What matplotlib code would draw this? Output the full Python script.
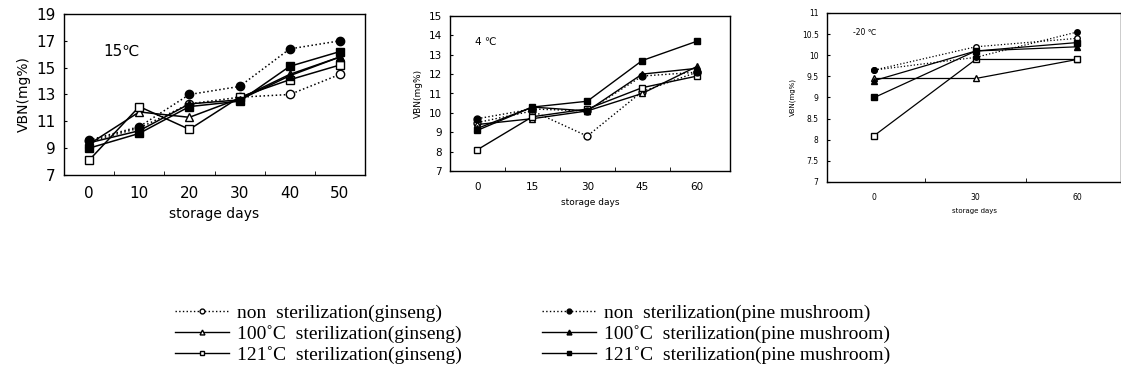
import numpy as np
import matplotlib.pyplot as plt
from matplotlib.lines import Line2D

# 15C storage
days_15 = [0, 10, 20, 30, 40, 50]
non_gin_15 = [9.5, 10.5, 12.3, 12.8, 13.0, 14.5]
s100_gin_15 = [9.3, 11.7, 11.3, 12.7, 14.5, 15.8]
s121_gin_15 = [8.1, 12.1, 10.4, 12.8, 14.1, 15.2]
non_pine_15 = [9.6, 10.6, 13.0, 13.6, 16.4, 17.0]
s100_pine_15 = [9.4, 10.3, 12.3, 12.6, 14.4, 15.8]
s121_pine_15 = [9.0, 10.1, 12.1, 12.5, 15.1, 16.2]

# 4C storage
days_4 = [0, 15, 30, 45, 60]
non_gin_4 = [9.5, 10.1, 8.8, 11.1, 12.1]
s100_gin_4 = [9.4, 9.7, 10.1, 11.0, 12.4]
s121_gin_4 = [8.1, 9.8, 10.2, 11.3, 11.9]
non_pine_4 = [9.7, 10.2, 10.1, 11.9, 12.1]
s100_pine_4 = [9.2, 10.3, 10.1, 12.0, 12.3]
s121_pine_4 = [9.1, 10.3, 10.6, 12.7, 13.7]

# -20C storage
days_m20 = [0, 30, 60]
non_gin_m20 = [9.65, 10.2, 10.4]
s100_gin_m20 = [9.45, 9.45, 9.9]
s121_gin_m20 = [8.1, 9.9, 9.9]
non_pine_m20 = [9.65, 9.95, 10.55]
s100_pine_m20 = [9.4, 10.1, 10.2]
s121_pine_m20 = [9.0, 10.1, 10.3]

labels = ['non  sterilization(ginseng)', '100\u02daC  sterilization(ginseng)', '121\u02daC  sterilization(ginseng)',
          'non  sterilization(pine mushroom)', '100\u02daC  sterilization(pine mushroom)',
          '121\u02daC  sterilization(pine mushroom)']

styles = [(':', 'o', 'white'), ('-', '^', 'white'), ('-', 's', 'white'),
          (':', 'o', 'black'), ('-', '^', 'black'), ('-', 's', 'black')]

fig = plt.figure(figsize=(11.21, 3.8), dpi=100)
W, H = 1121, 380


def add_panel(box, days, series, ylim, yticks, ytlabels, xlim, title, tpos, fs, ms, lw):
    l, t, r, b = box
    ax = fig.add_axes([l / W, 1 - b / H, (r - l) / W, (b - t) / H])
    for ys, (ls, mk, fc) in zip(series, styles):
        ax.plot(days, ys, linestyle=ls, marker=mk, color='black', mfc=fc, mec='black',
                ms=ms, lw=lw, mew=1.0)
    ax.set_xlim(xlim)
    ax.set_ylim(ylim)
    ax.set_xticks(days)
    ax.set_xticklabels([str(d) for d in days], fontsize=fs)
    step = days[1] - days[0]
    ax.set_xticks([d + step / 2 for d in days[:-1]], minor=True)
    ax.tick_params(axis='x', which='major', length=0, pad=8)
    ax.tick_params(axis='x', which='minor', direction='in', length=3)
    ax.set_yticks(yticks)
    ax.set_yticklabels(ytlabels, fontsize=fs)
    ax.tick_params(axis='y', direction='in', length=2, pad=6)
    ax.set_xlabel('storage days', fontsize=fs - 1, labelpad=4)
    ax.set_ylabel('VBN(mg%)', fontsize=fs - 1, labelpad=4)
    ax.text(tpos[0], tpos[1], title, transform=ax.transAxes, fontsize=fs)
    for s in ax.spines.values():
        s.set_linewidth(1.0)
    return ax


add_panel((64, 14, 365, 175), days_15,
          [non_gin_15, s100_gin_15, s121_gin_15, non_pine_15, s100_pine_15, s121_pine_15],
          (7, 19), range(7, 20, 2), [str(v) for v in range(7, 20, 2)], (-5, 55),
          '15\u2103', (0.13, 0.74), 11, 6, 1.1)

add_panel((450, 16, 730, 171), days_4,
          [non_gin_4, s100_gin_4, s121_gin_4, non_pine_4, s100_pine_4, s121_pine_4],
          (7, 15), range(7, 16), [str(v) for v in range(7, 16)], (-7.5, 69),
          '4 \u2103', (0.09, 0.81), 7.5, 5, 1.0)

ax3 = add_panel((827, 13, 1121, 182), days_m20,
                [non_gin_m20, s100_gin_m20, s121_gin_m20, non_pine_m20, s100_pine_m20, s121_pine_m20],
                (7, 11), np.arange(7, 11.01, 0.5), ['7', '7.5', '8', '8.5', '9', '9.5', '10', '10.5', '11'],
                (-14, 73), '-20 \u2103', (0.09, 0.87), 5.5, 4, 0.9)
ax3.yaxis.label.set_size(5)
ax3.xaxis.label.set_size(5)

handles = [Line2D([], [], linestyle=ls, marker=mk, color='black', mfc=fc, mec='black',
                  ms=3.5, lw=1.0) for ls, mk, fc in styles]
fig.legend(handles, labels, ncol=2, loc='upper left', bbox_to_anchor=(175 / W, 1 - 304 / H),
           frameon=False, prop={'family': 'Liberation Serif', 'size': 14},
           handlelength=2.8, columnspacing=4.1, labelspacing=0.17, handletextpad=0.4,
           borderpad=0, borderaxespad=0)

plt.savefig('out.png', dpi=100)
